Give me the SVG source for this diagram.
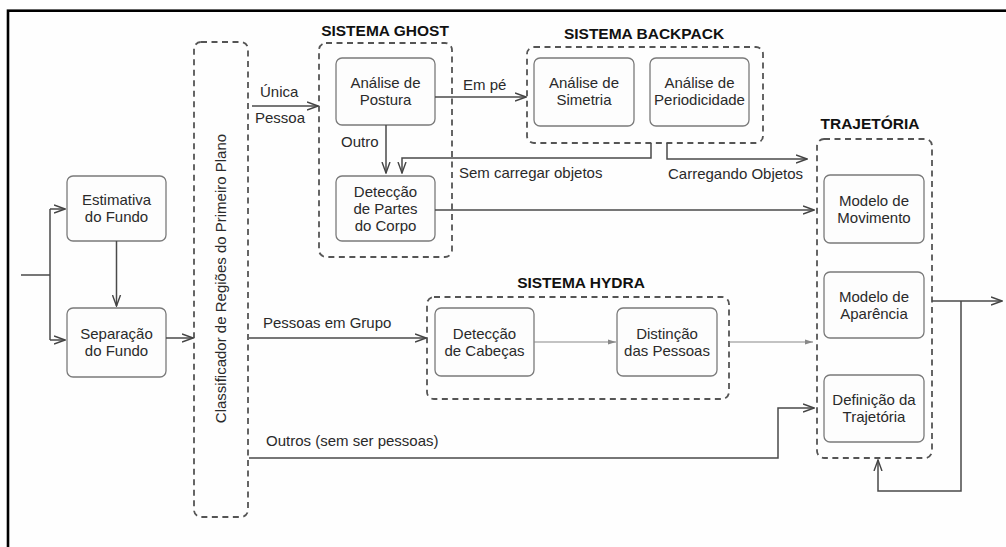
<svg xmlns="http://www.w3.org/2000/svg" width="1006" height="547" viewBox="0 0 1006 547">
  <defs>
    <style>
      .frame { fill: #fefefe; stroke: #000; stroke-width: 2.6; }
      .box { fill: #fdfdfd; stroke: #7a7a7a; stroke-width: 1.3; }
      .group { fill: none; stroke: #555; stroke-width: 1.8; stroke-dasharray: 6 4.5; }
      .wire { fill: none; stroke: #4a4a4a; stroke-width: 1.5; }
      .thin { fill: none; stroke: #888; stroke-width: 1.2; }
      text { font-family: "Liberation Sans", Arial, sans-serif; font-size: 15px; fill: #2a2a2a; }
      .c { text-anchor: middle; }
      .title { font-weight: bold; font-size: 15.5px; fill: #111; text-anchor: middle; }
    </style>
    <marker id="open" viewBox="0 0 12 10" refX="11" refY="5" markerWidth="12" markerHeight="10" markerUnits="userSpaceOnUse" orient="auto">
      <path d="M0,1 L11,5 L0,9" fill="none" stroke="#444" stroke-width="1.4"/>
    </marker>
    <marker id="small" viewBox="0 0 8 6" refX="8" refY="3" markerWidth="8" markerHeight="6" markerUnits="userSpaceOnUse" orient="auto">
      <path d="M0,0.5 L8,3 L0,5.5 Z" fill="#888"/>
    </marker>
  </defs>

  <rect class="frame" x="8" y="10.7" width="1010" height="550"/>

  <!-- group outlines and titles -->
  <g id="classificador">
    <rect class="group" x="194" y="42" width="54" height="475" rx="7"/>
    <text class="c" transform="translate(226,278.5) rotate(-90)">Classificador de Regiões do Primeiro Plano</text>
  </g>

  <g id="sistema-ghost">
    <text class="title" x="385" y="36">SISTEMA GHOST</text>
    <rect class="group" x="319" y="43" width="133" height="214" rx="7"/>
  </g>

  <g id="sistema-backpack">
    <text class="title" x="644" y="39">SISTEMA BACKPACK</text>
    <rect class="group" x="527" y="47" width="236" height="96" rx="7"/>
  </g>

  <g id="sistema-hydra">
    <text class="title" x="581" y="288">SISTEMA HYDRA</text>
    <rect class="group" x="427" y="297" width="302" height="102" rx="7"/>
  </g>

  <g id="trajetoria">
    <text class="title" x="870" y="129">TRAJETÓRIA</text>
    <rect class="group" x="817" y="139" width="115" height="319" rx="7"/>
  </g>

  <!-- process nodes -->
  <g id="estimativa-fundo">
    <rect class="box" x="67" y="176" width="99" height="65" rx="6"/>
    <text class="c" x="116.5" y="205">Estimativa</text>
    <text class="c" x="116.5" y="222">do Fundo</text>
  </g>

  <g id="separacao-fundo">
    <rect class="box" x="67" y="308" width="99" height="69" rx="6"/>
    <text class="c" x="116.5" y="339">Separação</text>
    <text class="c" x="116.5" y="356">do Fundo</text>
  </g>

  <g id="analise-postura">
    <rect class="box" x="336" y="58" width="99" height="67" rx="6"/>
    <text class="c" x="385.5" y="88">Análise de</text>
    <text class="c" x="385.5" y="105">Postura</text>
  </g>

  <g id="deteccao-partes">
    <rect class="box" x="336" y="176" width="99" height="65" rx="6"/>
    <text class="c" x="385.5" y="196.5">Detecção</text>
    <text class="c" x="385.5" y="213.5">de Partes</text>
    <text class="c" x="385.5" y="230.5">do Corpo</text>
  </g>

  <g id="analise-simetria">
    <rect class="box" x="534" y="58" width="100" height="68" rx="6"/>
    <text class="c" x="584" y="88">Análise de</text>
    <text class="c" x="584" y="105">Simetria</text>
  </g>

  <g id="analise-periodicidade">
    <rect class="box" x="650" y="58" width="99" height="68" rx="6"/>
    <text class="c" x="699.5" y="88">Análise de</text>
    <text class="c" x="699.5" y="105">Periodicidade</text>
  </g>

  <g id="deteccao-cabecas">
    <rect class="box" x="435" y="308" width="99" height="68" rx="6"/>
    <text class="c" x="484.5" y="338.5">Detecção</text>
    <text class="c" x="484.5" y="355.5">de Cabeças</text>
  </g>

  <g id="distincao-pessoas">
    <rect class="box" x="617" y="308" width="100" height="68" rx="6"/>
    <text class="c" x="667" y="338.5">Distinção</text>
    <text class="c" x="667" y="355.5">das Pessoas</text>
  </g>

  <g id="modelo-movimento">
    <rect class="box" x="824" y="175" width="100" height="68" rx="6"/>
    <text class="c" x="874" y="205.5">Modelo de</text>
    <text class="c" x="874" y="222.5">Movimento</text>
  </g>

  <g id="modelo-aparencia">
    <rect class="box" x="824" y="272" width="100" height="66" rx="6"/>
    <text class="c" x="874" y="301.5">Modelo de</text>
    <text class="c" x="874" y="318.5">Aparência</text>
  </g>

  <g id="definicao-trajetoria">
    <rect class="box" x="824" y="375" width="100" height="67" rx="6"/>
    <text class="c" x="874" y="405">Definição da</text>
    <text class="c" x="874" y="422">Trajetória</text>
  </g>

  <!-- connectors -->
  <g id="connectors">
    <path class="wire" d="M21,275 H50"/>
    <path class="wire" d="M50,209 V340"/>
    <path class="wire" d="M50,209 H65" marker-end="url(#open)"/>
    <path class="wire" d="M50,340 H65" marker-end="url(#open)"/>
    <path class="wire" d="M116.5,241 V306" marker-end="url(#open)"/>
    <path class="wire" d="M166,338 H193" marker-end="url(#open)"/>

    <path class="wire" d="M252,106 H318" marker-end="url(#open)"/>
    <path class="wire" d="M435,97 H526" marker-end="url(#open)"/>
    <path class="wire" d="M386,125 V173" marker-end="url(#open)"/>
    <path class="wire" d="M651,143 V158 H402 V173" marker-end="url(#open)"/>
    <path class="wire" d="M667,143 V159 H807" marker-end="url(#open)"/>
    <path class="wire" d="M435,210 H814" marker-end="url(#open)"/>

    <path class="wire" d="M249,338 H426" marker-end="url(#open)"/>
    <path class="thin" d="M534,342 H616" marker-end="url(#small)"/>
    <path class="thin" d="M729,342 H813" marker-end="url(#small)"/>

    <path class="wire" d="M249,458 H778 V408 H814" marker-end="url(#open)"/>

    <path class="wire" d="M932,301 H1002" marker-end="url(#open)"/>
    <path class="wire" d="M961,301 V491 H878 V460" marker-end="url(#open)"/>

    <!-- connector labels -->
    <text x="260" y="97">Única</text>
    <text x="255" y="123">Pessoa</text>
    <text x="463" y="90">Em pé</text>
    <text x="341" y="147">Outro</text>
    <text x="459" y="178">Sem carregar objetos</text>
    <text x="668" y="179">Carregando Objetos</text>
    <text x="263" y="328">Pessoas em Grupo</text>
    <text x="266" y="446">Outros (sem ser pessoas)</text>
  </g>
</svg>
